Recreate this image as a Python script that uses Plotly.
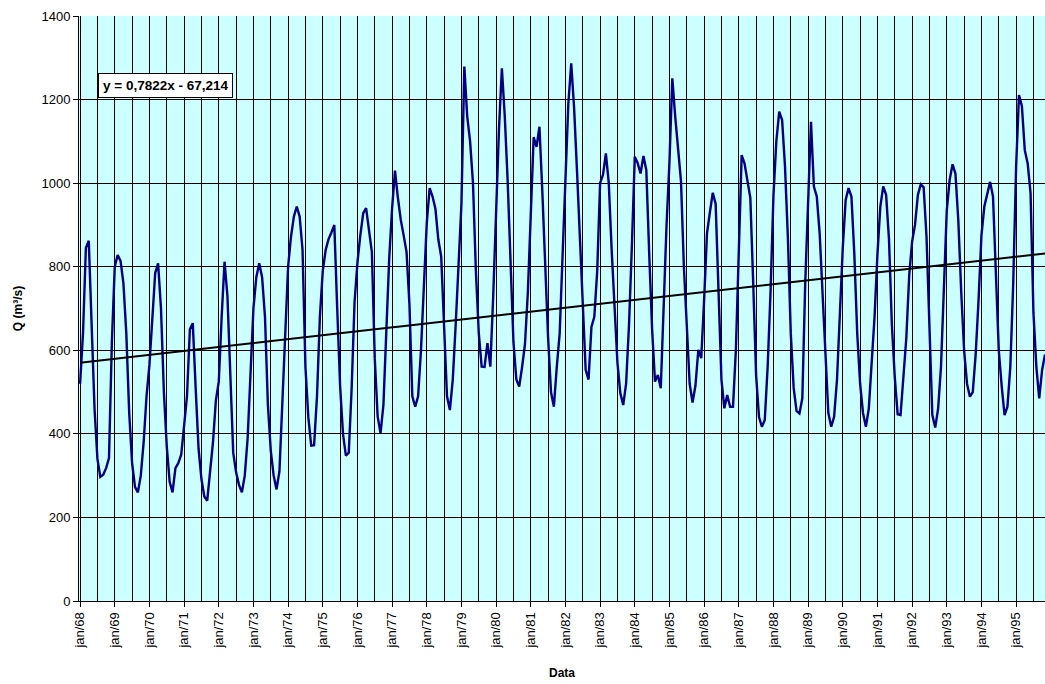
import plotly.graph_objects as go

# Monthly discharge Q (m3/s), jan/68 .. nov/95
Q_1968 = [520, 640, 845, 862, 660, 460, 340, 297, 302, 318, 342, 620]
Q_1969 = [800, 828, 814, 760, 640, 450, 330, 273, 260, 300, 380, 490]
Q_1970 = [565, 680, 785, 808, 700, 500, 370, 285, 260, 318, 330, 350]
Q_1971 = [430, 490, 650, 665, 510, 365, 292, 250, 240, 305, 380, 480]
Q_1972 = [525, 680, 812, 730, 520, 355, 308, 278, 260, 300, 390, 540]
Q_1973 = [700, 775, 808, 775, 680, 470, 360, 300, 267, 310, 470, 650]
Q_1974 = [800, 872, 920, 944, 920, 840, 560, 440, 372, 373, 490, 680]
Q_1975 = [790, 840, 866, 882, 900, 700, 515, 400, 348, 355, 510, 715]
Q_1976 = [810, 875, 928, 940, 885, 835, 580, 441, 402, 470, 645, 820]
Q_1977 = [940, 1030, 965, 912, 875, 835, 710, 490, 465, 490, 600, 770]
Q_1978 = [905, 988, 968, 938, 865, 824, 660, 490, 457, 530, 660, 800]
Q_1979 = [950, 1279, 1160, 1100, 1000, 790, 641, 561, 560, 617, 561, 730]
Q_1980 = [930, 1130, 1275, 1160, 1005, 830, 620, 530, 513, 560, 615, 740]
Q_1981 = [940, 1110, 1087, 1135, 980, 790, 630, 500, 465, 560, 640, 825]
Q_1982 = [1030, 1190, 1287, 1180, 1030, 872, 680, 553, 530, 656, 680, 790]
Q_1983 = [1000, 1020, 1071, 1000, 840, 690, 570, 497, 469, 520, 660, 850]
Q_1984 = [1063, 1048, 1023, 1065, 1031, 830, 650, 525, 541, 509, 720, 900]
Q_1985 = [1050, 1251, 1159, 1080, 1005, 800, 640, 520, 475, 515, 601, 581]
Q_1986 = [720, 880, 930, 977, 950, 740, 530, 461, 493, 465, 465, 601]
Q_1987 = [830, 1067, 1047, 1010, 965, 760, 540, 440, 417, 433, 561, 740]
Q_1988 = [970, 1100, 1171, 1151, 1040, 870, 641, 510, 455, 449, 485, 760]
Q_1989 = [980, 1147, 992, 968, 880, 730, 580, 450, 417, 441, 530, 690]
Q_1990 = [845, 960, 988, 968, 830, 640, 520, 450, 417, 460, 570, 680]
Q_1991 = [830, 944, 992, 972, 865, 660, 535, 447, 445, 540, 630, 780]
Q_1992 = [860, 900, 972, 997, 990, 870, 640, 445, 415, 460, 561, 730]
Q_1993 = [935, 1008, 1045, 1023, 910, 740, 600, 520, 489, 500, 590, 720]
Q_1994 = [875, 944, 976, 1003, 968, 760, 600, 515, 445, 465, 561, 760]
Q_1995 = [1040, 1211, 1185, 1079, 1047, 976, 690, 561, 485, 553, 590]

TICK_LABELS = ["jan/68", "jan/69", "jan/70", "jan/71", "jan/72", "jan/73", "jan/74",
               "jan/75", "jan/76", "jan/77", "jan/78", "jan/79", "jan/80", "jan/81",
               "jan/82", "jan/83", "jan/84", "jan/85", "jan/86", "jan/87", "jan/88",
               "jan/89", "jan/90", "jan/91", "jan/92", "jan/93", "jan/94", "jan/95"]

# Excel linear trendline: y = 0,7822x - 67,214 (x = row number of the series)
TREND_SLOPE = 0.7822
TREND_INTERCEPT = -67.214
TREND_X_OFFSET = 815
EQUATION_TEXT = "y = 0,7822x - 67,214"

series = (Q_1968 + Q_1969 + Q_1970 + Q_1971 + Q_1972 + Q_1973 + Q_1974 + Q_1975 +
          Q_1976 + Q_1977 + Q_1978 + Q_1979 + Q_1980 + Q_1981 + Q_1982 + Q_1983 +
          Q_1984 + Q_1985 + Q_1986 + Q_1987 + Q_1988 + Q_1989 + Q_1990 + Q_1991 +
          Q_1992 + Q_1993 + Q_1994 + Q_1995)
idx = list(range(len(series)))
trend = [TREND_SLOPE * (i + TREND_X_OFFSET) + TREND_INTERCEPT for i in idx]

FONT = "Arial, 'Liberation Sans', sans-serif"

fig = go.Figure()
fig.add_trace(go.Scatter(x=idx, y=series, mode="lines",
                         line=dict(color="#000080", width=2.4), hoverinfo="y"))
fig.add_trace(go.Scatter(x=idx, y=trend, mode="lines",
                         line=dict(color="black", width=2), hoverinfo="skip"))

major = [12 * k for k in range(len(TICK_LABELS))]
minor = [12 * k + 6 for k in range(len(TICK_LABELS))]

fig.update_layout(
    width=1045, height=684,
    margin=dict(l=79, r=0, t=16, b=83),
    paper_bgcolor="white", plot_bgcolor="#CCFFFF",
    showlegend=False,
    font=dict(family=FONT, size=13, color="black"),
    xaxis=dict(
        range=[-0.38, 334.0], tickmode="array", tickvals=major, ticktext=TICK_LABELS,
        tickangle=-90, ticks="outside", ticklen=5, tickcolor="black",
        showgrid=True, gridcolor="black", gridwidth=1,
        showline=True, linecolor="black", linewidth=1, zeroline=False,
        minor=dict(tickvals=minor, showgrid=True, gridcolor="black", gridwidth=1, ticks=""),
        tickfont=dict(size=13),
        title=dict(text="<b>Data</b>", font=dict(size=12), standoff=20),
        automargin=False,
    ),
    yaxis=dict(
        range=[0, 1400], tickmode="linear", tick0=0, dtick=200,
        ticks="outside", ticklen=5, tickcolor="black",
        showgrid=True, gridcolor="black", gridwidth=1,
        showline=True, linecolor="black", linewidth=1, zeroline=False,
        tickfont=dict(size=13),
        title=dict(text="<b>Q (m³/s)</b>", font=dict(size=12), standoff=16),
        automargin=False,
    ),
    annotations=[dict(
        text="<b>" + EQUATION_TEXT + "</b>", xref="paper", yref="paper",
        x=0.090, y=0.882, xanchor="center", yanchor="middle", showarrow=False,
        font=dict(size=13.5, color="black"), bgcolor="white",
        bordercolor="black", borderwidth=1, borderpad=4,
    )],
)

fig.write_html(
    "out.html",
    config={"displayModeBar": False},
    post_script="document.body.style.margin='0';document.body.style.overflow='hidden';",
)
